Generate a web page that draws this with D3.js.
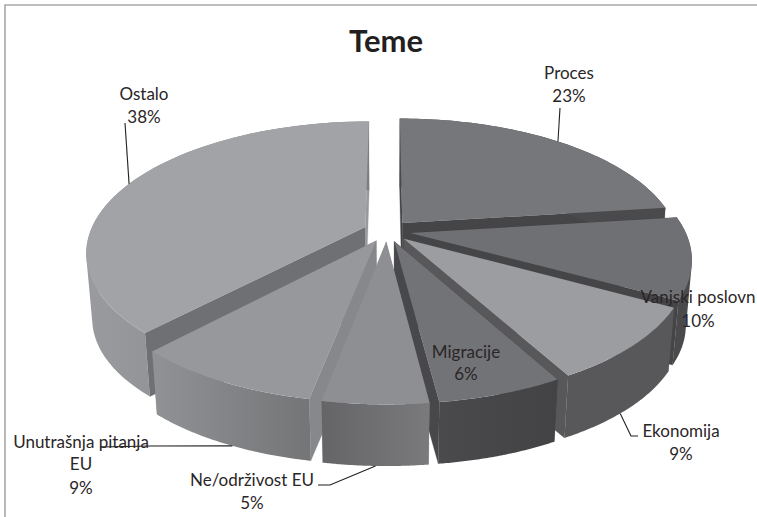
<!DOCTYPE html>
<html><head><meta charset="utf-8">
<script src="https://cdn.jsdelivr.net/npm/d3@7"></script>
<style>html,body{margin:0;padding:0;background:#fff}svg{display:block}</style>
</head><body><svg id="c" width="757" height="517"></svg>
<script>
// Data
const categories = ["Proces","Vanjski poslovn","Ekonomija","Migracije","Ne/održivost EU","Unutrašnja pitanja EU","Ostalo"];
const values = [23,10,9,6,5,9,38];
const title = "Teme";
// Styles, per slice
const topColors  = ["#76777a","#6f7073","#9c9da0","#727376","#8e8f92","#97989b","#a2a3a6"];
const wallColors = ["#454547","#454547","#58585a","#48484a","#87888b","#87888b","#6f7073"];
const endWallColors = ["#454547","#454547","#58585a","#48484a","#87888b","#87888b","#98999c"];
const rimFrom    = ["#4a4a4c","#4a4a4c","#58585a","#4a4a4c","#656567","#919295","#9a9b9e"];
const rimTo      = ["#4a4a4c","#4a4a4c","#58585a","#434345","#7a7a7c","#747577","#7c7d80"];
// Back-to-front drawing order of slices
const paintOrder = [6,0,1,5,2,3,4];
// Label layout: text lines centre, optional leader elbows; rim selects edge, at = position along the slice
const labelLayout = [
 {lines:["Proces","23%"], x:569, y:[79,102], elbow:[[560,108]], rim:"top", at:0.5},
 {lines:["Vanjski poslovn","10%"], x:698, y:[303,327], elbow:null},
 {lines:["Ekonomija","9%"], x:681, y:[437,460], elbow:[[638,436],[631,436]], rim:"bottom", at:0.58},
 {lines:["Migracije","6%"], x:466, y:[358,380], elbow:null},
 {lines:["Ne/održivost EU","5%"], x:252, y:[486,509], elbow:[[318,485],[330,485]], rim:"bottom", at:0.5},
 {lines:["Unutrašnja pitanja","EU","9%"], x:81, y:[448,470,494], elbow:[[100,447],[150,446]], rim:"bottom", at:0.45},
 {lines:["Ostalo","38%"], x:144, y:[100,123], elbow:[[125,123]], rim:"top", at:0.5}
];
// Projection
const CX=387, CY=231, RX=275, RY=127, PERSP=5.28, EXPLODE=0.085, DEPTH=66, SHRINK=0.98;
const sx=d3.scaleLinear([-1,1],[CX-RX,CX+RX]);
const sy=d3.scaleLinear([-1,1],[CY+RY,CY-RY]);
const svg=d3.select("#c");
const FONT="Lato, 'Open Sans', sans-serif";
const defs=svg.append("defs");

const pie=d3.pie().sort(null).startAngle(0).endAngle(2*Math.PI)(values);

function proj(u,v){const s=PERSP/(PERSP+v);return [sx(u*s),sy(v*s)];}
function drop(p){return [CX+(p[0]-CX)*SHRINK, CY+(p[1]-CY)*0.975+DEPTH];}
function ptOf(d,r,a){
  const m=(d.startAngle+d.endAngle)/2;
  return proj(EXPLODE*Math.sin(m)+r*Math.sin(a), EXPLODE*Math.cos(m)+r*Math.cos(a));
}
const line=d3.line().curve(d3.curveLinear);

svg.append("path").attr("d","M5,517V5H757").attr("fill","none").attr("stroke","#a7a8aa").attr("stroke-width",1.6);

const g=svg.append("g");
paintOrder.forEach(i=>{
  const d=pie[i];
  const A=ptOf(d,0,0);
  const a0=d.startAngle,a1=d.endAngle;
  const arc=d3.range(0,61).map(k=>ptOf(d,1,a0+(a1-a0)*k/60));
  const sl=g.append("g").attr("class","slice");
  const Ad=drop(A);
  const wall=(R,c)=>sl.append("path").attr("d",line([A,R,drop(R),Ad])+"Z")
     .attr("fill",c).attr("stroke",c).attr("stroke-width",0.3);
  wall(arc[0],wallColors[i]); wall(arc[60],endWallColors[i]);
  const gid="rim"+i;
  const lg=defs.append("linearGradient").attr("id",gid).attr("gradientUnits","userSpaceOnUse")
    .attr("x1",d3.min(arc,p=>p[0])).attr("x2",d3.max(arc,p=>p[0])).attr("y1",0).attr("y2",0);
  lg.append("stop").attr("offset",0).attr("stop-color",rimFrom[i]);
  lg.append("stop").attr("offset",1).attr("stop-color",rimTo[i]);
  // rim swept segment by segment in one path; every quad gets the same winding so the fill stays solid
  const sweep=d3.range(60).map(k=>{
    const q=[arc[k],arc[k+1],drop(arc[k+1]),drop(arc[k])];
    return line(d3.polygonArea(q)<0?q.reverse():q)+"Z";
  }).join("");
  sl.append("path").attr("d",sweep).attr("fill",`url(#${gid})`);
  sl.append("path").attr("d",line([A].concat(arc))+"Z").attr("fill",topColors[i]);
});

// Leaders and labels
labelLayout.forEach((l,i)=>{
  const d=pie[i];
  if(l.elbow){
    let P=ptOf(d,1,d.startAngle+(d.endAngle-d.startAngle)*l.at);
    if(l.rim==="bottom")P=drop(P);
    svg.append("path").attr("d",line(l.elbow.concat([P]))).attr("fill","none").attr("stroke","#231f20").attr("stroke-width",1.1);
  }
});
labelLayout.forEach(l=>{
  l.lines.forEach((t,k)=>{
    svg.append("text").attr("x",l.x).attr("y",l.y[k]).attr("text-anchor","middle")
      .attr("font-family",FONT).attr("font-size",17).attr("fill","#2a2627").text(t);
  });
});
svg.append("text").attr("x",386).attr("y",52).attr("text-anchor","middle").attr("font-family",FONT)
  .attr("font-weight",700).attr("font-size",31).attr("fill","#231f20").text(title);
</script></body></html>
